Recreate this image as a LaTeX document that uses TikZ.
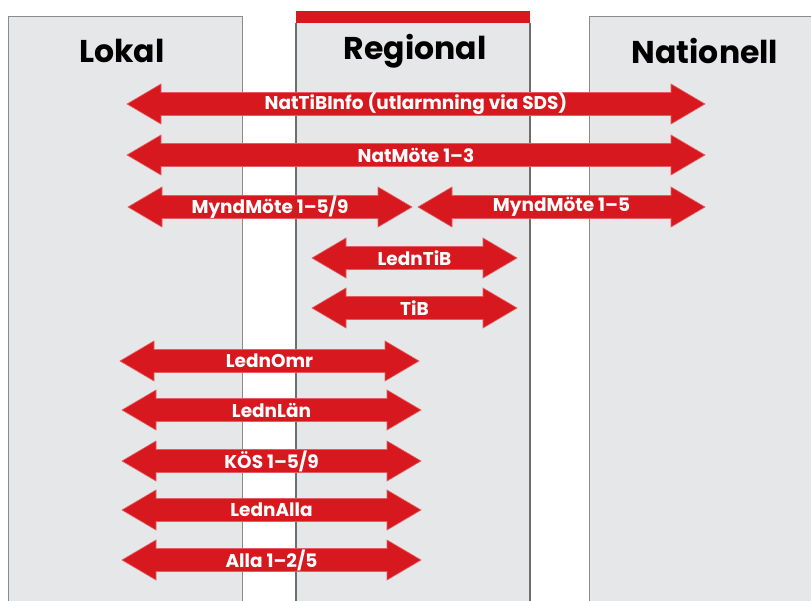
\documentclass[tikz,border=0pt]{standalone}
\usepackage{fontspec}
\setmainfont{Poppins}
\definecolor{arrred}{HTML}{D7191F}
\definecolor{colfill}{HTML}{E6E7E8}
\definecolor{thinborder}{HTML}{8A8B8D}
\definecolor{thickborder}{HTML}{6D6E71}
\tikzset{
  colbox/.style={fill=colfill, draw=thinborder, line width=1pt},
  regbox/.style={fill=colfill, draw=none},
  regside/.style={draw=thickborder, line width=2.5pt},
  coltitle/.style={font=\fontsize{31.5}{35}\selectfont\bfseries, text=black, anchor=center},
  arrlabel/.style={font=\fontsize{18.5}{20}\selectfont\bfseries, text=white, anchor=center, inner sep=0pt},
  arrshape/.style={fill=arrred, draw=arrred!70!white, line width=0.6pt}
}
\newcommand{\dblarr}[5]{%
  \fill[arrshape] (#1,#3) -- (#1+34,#3-20) -- (#1+34,#3-11.5) -- (#2-34,#3-11.5) -- (#2-34,#3-20)
    -- (#2,#3) -- (#2-34,#3+20) -- (#2-34,#3+11.5) -- (#1+34,#3+11.5) -- (#1+34,#3+20) -- cycle;
  \node[arrlabel] (#4) at ({(#1+#2)/2},#3) {#5};
}
\begin{document}
\begin{tikzpicture}[x=1pt,y=-1pt]
\useasboundingbox (0,0) rectangle (811,601);
% columns
\fill[colfill] (8,17) rectangle (242,610);
\draw[thinborder, line width=1pt] (8,610) -- (8,17) -- (242,17) -- (242,610);
\fill[colfill] (589,17) rectangle (820,610);
\draw[thinborder, line width=1pt] (589,610) -- (589,17) -- (820,17);
\fill[regbox] (296,23) rectangle (530,610);
\draw[regside] (296,23) -- (296,610);
\draw[regside] (530,23) -- (530,610);
\fill[arrred] (296,11) rectangle (530,23);
\node[coltitle] (lokal) at (122,51) {Lokal};
\node[coltitle] (regional) at (415,51) {Regional};
\node[coltitle] (nationell) at (705,51) {Nationell};
% arrows
\dblarr{127}{705}{104}{a1}{NatTiBInfo (utlarmning via SDS)}
\dblarr{127}{705}{155}{a2}{NatMöte 1–3}
\dblarr{128}{412}{207}{a3}{MyndMöte 1–5/9}
\dblarr{418}{705}{207}{a4}{MyndMöte 1–5}
\dblarr{312}{517}{258}{a5}{LednTiB}
\dblarr{312}{517}{308}{a6}{TiB}
\dblarr{120}{419}{361}{a7}{LednOmr}
\dblarr{122}{421}{410}{a8}{LednLän}
\dblarr{122}{421}{461}{a9}{KÖS 1–5/9}
\dblarr{122}{421}{510}{a10}{LednAlla}
\dblarr{122}{421}{560}{a11}{Alla 1–2/5}
\end{tikzpicture}
\end{document}
